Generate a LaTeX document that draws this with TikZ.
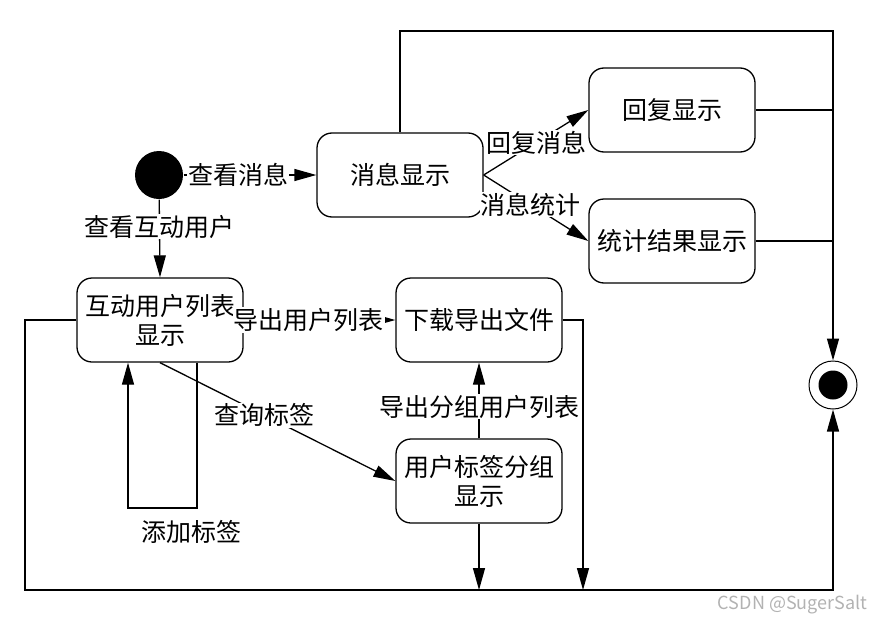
\documentclass[tikz,border=0pt]{standalone}
\usepackage{fontspec}
\setmainfont{Noto Sans CJK SC}
\usetikzlibrary{arrows.meta,calc}
\begin{document}
\begin{tikzpicture}[x=1pt,y=-1pt,
  line width=1.3pt,
  state/.style={draw, rounded corners=15pt, minimum width=166pt, minimum height=84pt, align=center, font=\fontsize{25}{29}\selectfont, inner sep=0pt},
  lbl/.style={fill=white, inner sep=1pt, font=\fontsize{25}{29}\selectfont},
  plain/.style={font=\fontsize{25}{29}\selectfont, inner sep=1pt},
  arr/.style={-{Triangle[length=22pt,width=12pt]}},
]
\useasboundingbox (0,0) rectangle (882,626);
\node[state] (msg) at (400,175) {消息显示};
\node[state] (rep) at (672,110) {回复显示};
\node[state] (stat) at (672,241) {统计结果显示};
\node[state] (hu) at (160,320) {互动用户列表\\显示};
\node[state] (dl) at (479,320) {下载导出文件};
\node[state] (grp) at (479,481) {用户标签分组\\显示};
\node[circle, fill=black, minimum size=48pt, inner sep=0pt] (start) at (159,175) {};
\node[circle, draw, minimum size=48pt, inner sep=0pt, line width=1pt] (end) at (833,385) {};
\node[circle, fill=black, minimum size=29pt, inner sep=0pt] (endin) at (833,385) {};

\coordinate (tr) at (833,31);
\coordinate (bl) at (25,590);
\coordinate (br) at (833,590);
\coordinate (dlb) at (583,590);
\coordinate (loopR) at (197,508);
\coordinate (loopL) at (128,508);

\draw[arr] (start) -- node[lbl, pos=0.41]{查看消息} (msg.west);
\draw[arr] (start) -- node[lbl, pos=0.35]{查看互动用户} (hu.north);
\draw[arr] (msg.east) -- node[lbl, pos=0.5]{回复消息} (rep.west);
\draw[arr] (msg.east) -- node[lbl, pos=0.45]{消息统计} (stat.west);
\draw[arr] (msg.north) |- (tr) -- (end.north);
\draw (rep.east) -- (rep.east -| tr);
\draw (stat.east) -- (stat.east -| tr);
\draw[arr] (hu.east) -- node[lbl, pos=0.43]{导出用户列表} (dl.west);
\draw[arr] (hu.south) -- node[lbl, pos=0.445]{查询标签} (grp.west);
\draw[arr] (hu.south -| loopR) -- (loopR) -- (loopL) -- (hu.south -| loopL);
\node[plain] (addlbl) at (191,532) {添加标签};
\draw[arr] (hu.west) -| (bl) -- (br) -- (end.south);
\draw[arr] (dl.east) -| (dlb);
\draw[arr] (grp.south) -- (grp.south |- bl);
\draw[arr] (grp.north) -- node[lbl, pos=0.42]{导出分组用户列表} (dl.south);
\node[text=gray!60, font=\fontsize{18}{21}\selectfont, anchor=east, inner sep=0pt] (wm) at (868,605) {CSDN @SugerSalt};
\end{tikzpicture}
\end{document}
